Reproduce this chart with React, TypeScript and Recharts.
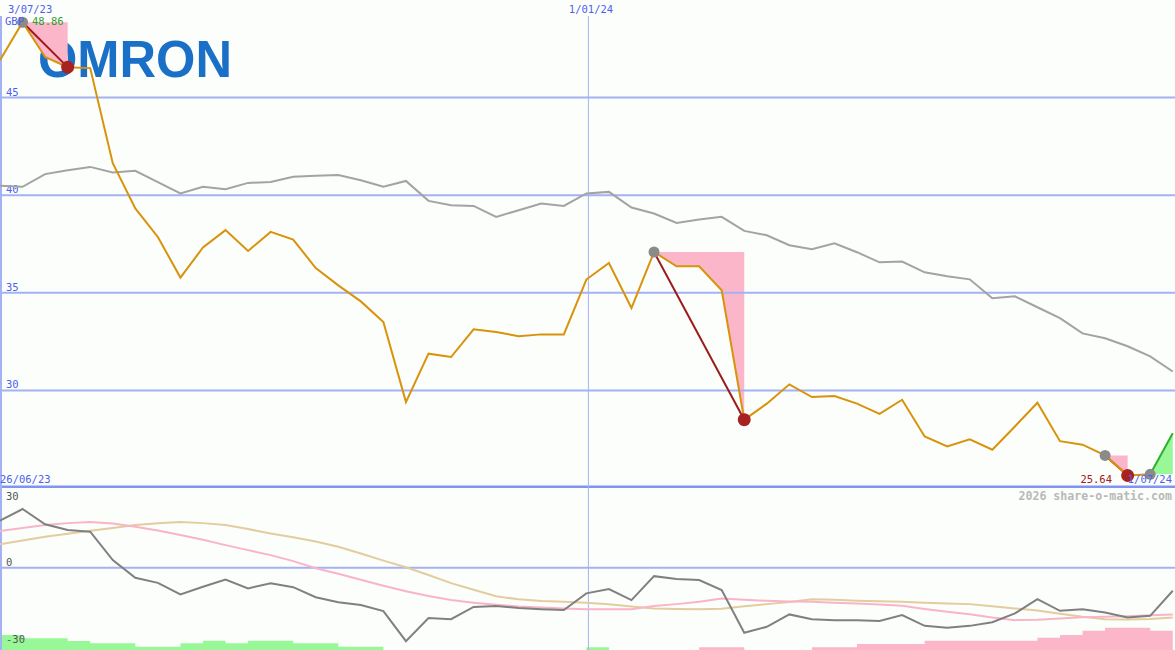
import React from 'react';
import { ComposedChart, Line, Area, XAxis, YAxis, ReferenceLine } from 'recharts';

// weekly closes in GBP, index 0 = end of June 2023
const closes = [
  46.92, 48.86, 47.08, 46.56, 46.51, 41.64, 39.32, 37.86, 35.78, 37.32,
  38.21, 37.14, 38.12, 37.73, 36.27, 35.38, 34.56, 33.5, 29.4, 31.88,
  31.71, 33.13, 32.99, 32.78, 32.87, 32.87, 35.68, 36.53, 34.22, 37.09,
  36.36, 36.36, 35.13, 28.5, 29.32, 30.31, 29.66, 29.71, 29.32, 28.8,
  29.52, 27.64, 27.13, 27.49, 26.96, 28.15, 29.37, 27.4, 27.22, 26.67,
  25.64, 25.7, 27.8,
];

// slow moving average (grey line, top panel)
const trend = [
  40.48, 40.43, 41.08, 41.28, 41.45, 41.16, 41.25, 40.67, 40.09, 40.43,
  40.31, 40.63, 40.68, 40.94, 41.0, 41.03, 40.77, 40.43, 40.73, 39.71,
  39.49, 39.45, 38.89, 39.23, 39.57, 39.45, 40.09, 40.17, 39.37, 39.06,
  38.58, 38.75, 38.89, 38.17, 37.95, 37.44, 37.23, 37.54, 37.08, 36.56,
  36.6, 36.05, 35.85, 35.69, 34.72, 34.82, 34.26, 33.7, 32.92, 32.67,
  32.26, 31.74, 30.97,
];

// lower panel: oscillator and its two signal lines
const osc = [
  19.7, 24.6, 18.2, 15.8, 15.1, 3.2, -4.2, -6.3, -11.1, -7.9,
  -4.9, -8.6, -6.5, -8.1, -12.3, -14.4, -15.6, -18.1, -30.7, -21.0,
  -21.5, -16.4, -16.0, -16.8, -17.3, -17.7, -10.7, -8.9, -13.5, -3.5,
  -4.7, -5.1, -9.3, -27.2, -24.7, -19.5, -21.5, -21.9, -21.9, -22.3,
  -19.8, -24.3, -25.1, -24.3, -22.8, -19.1, -13.1, -18.0, -17.3, -18.7,
  -20.8, -20.1, -9.6,
];
const oscPink = [
  15.4, 16.7, 17.9, 18.7, 19.2, 18.5, 17.2, 15.6, 13.7, 11.7,
  9.5, 7.4, 5.3, 2.8, -0.2, -2.5, -5.0, -7.5, -9.8, -11.8,
  -13.5, -14.6, -15.5, -16.2, -16.6, -17.0, -17.3, -17.3, -17.3, -16.0,
  -15.2, -14.2, -12.8, -13.4, -13.8, -14.1, -14.2, -14.6, -14.9, -15.4,
  -15.9, -17.2, -18.4, -19.4, -20.8, -21.9, -21.7, -21.2, -20.7, -20.5,
  -20.3, -19.9, -19.5,
];
const oscTan = [
  9.8, 11.4, 13.0, 14.3, 15.5, 16.7, 17.9, 18.6, 19.2, 18.7,
  17.9, 16.2, 14.4, 12.8, 11.0, 8.8, 6.0, 3.0, 0.2, -3.0,
  -6.4, -9.2, -11.9, -13.2, -13.9, -14.2, -14.6, -15.3, -16.2, -17.0,
  -17.2, -17.3, -17.1, -16.1, -15.2, -14.3, -13.2, -13.4, -13.8, -14.0,
  -14.2, -14.6, -14.9, -15.2, -16.1, -17.0, -17.9, -19.2, -20.5, -21.5,
  -21.6, -21.4, -20.8,
];
// histogram strip at the bottom (+ green, - pink)
const hist = [
  6.3, 4.9, 4.9, 3.8, 2.8, 2.8, 1.4, 1.4, 2.8, 3.9,
  2.8, 3.9, 3.9, 2.8, 2.8, 1.4, 1.4, 0, 0, 0,
  0, 0, 0, 0, 0, 0, 1.1, 0, 0, 0,
  0, -1.1, -1.1, 0, 0, 0, -1.1, -1.1, -2.5, -2.5,
  -2.5, -3.9, -3.9, -3.9, -3.9, -3.9, -5.1, -6.3, -8.1, -9.3,
  -9.3, -8.1, -8.1,
];

const peaks = [1, 29, 49, 51];
const troughs = [3, 33, 50];
const drops = [[1, 3], [29, 33], [49, 50]];
const rise = [51, 52];
const priceTicks = [45, 40, 35, 30];
const newYear = 26.09; // 1/01/24

const MONO = "'DejaVu Sans Mono', monospace";
const BLUE = '#4f5ff0';
const GRID = '#a4b2f4';

const rows = closes.map((c, i) => {
  const row: any = {
    i,
    close: i <= rise[0] ? c : null,
    trend: trend[i],
    riseLine: i >= rise[0] ? c : null,
    riseFill: i >= rise[0] ? [closes[rise[0]], c] : null,
    peak: peaks.includes(i) ? c : null,
    trough: troughs.includes(i) ? c : null,
    dropFill: null,
  };
  drops.forEach(([a, b], k) => {
    row[`drop${k}`] = i === a || i === b ? c : null;
    if (i >= a && i <= b) row.dropFill = [c, closes[a]];
  });
  return row;
});

const lowerRows = osc.map((v, i) => ({
  i,
  osc: v,
  pink: oscPink[i],
  tan: oscTan[i],
  up: hist[i] > 0 ? hist[i] : i > 0 && hist[i - 1] > 0 ? hist[i - 1] : null,
  down: hist[i] < 0 ? -hist[i] : i > 0 && hist[i - 1] < 0 ? -hist[i - 1] : null,
}));

const sideLabel = (text: string, color: string, dy: number) => (props: any) => (
  <text x={props.viewBox.x + 6} y={props.viewBox.y + dy} fill={color} fontSize={10.5} fontFamily={MONO}>
    {text}
  </text>
);

const noAnim = { isAnimationActive: false, dot: false, activeDot: false } as const;

export default function App() {
  return (
    <div style={{ position: 'absolute', left: 0, top: 0, width: 1175, height: 650, background: '#fbfefb', overflow: 'hidden' }}>
      {/* logo sits under the price lines */}
      <svg width={1175} height={100} style={{ position: 'absolute', left: 0, top: 0 }}>
        <text x={38} y={77} fontSize={52} fontWeight="bold" fontFamily="'Liberation Sans', Arial, sans-serif"
          fill="#1a6fc6" textLength={194} lengthAdjust="spacingAndGlyphs">OMRON</text>
      </svg>

      <div style={{ position: 'absolute', left: 0, top: 0 }}>
        <ComposedChart width={1175} height={488} data={rows} margin={{ top: 0, right: 0, bottom: 0, left: 0 }}>
          <XAxis dataKey="i" type="number" domain={[0, 52.1]} allowDataOverflow hide />
          <YAxis type="number" domain={[25, 50]} allowDataOverflow hide />
          {priceTicks.map(t => (
            <ReferenceLine key={t} y={t} stroke={GRID} strokeWidth={2} label={sideLabel(String(t), BLUE, -2)} />
          ))}
          <ReferenceLine y={25.05} stroke="#8294f2" strokeWidth={3} />
          <ReferenceLine segment={[{ x: 0, y: 49.18 }, { x: 0, y: 25 }]} stroke={GRID} strokeWidth={4} />
          <ReferenceLine segment={[{ x: newYear, y: 49.18 }, { x: newYear, y: 25 }]} stroke={GRID} strokeWidth={1} />

          <Line dataKey="trend" stroke="#a3a3a3" strokeWidth={2} {...noAnim} />
          <Area dataKey="dropFill" fill="#fbb6c9" fillOpacity={1} stroke="none" isAnimationActive={false} />
          <Area dataKey="riseFill" fill="#98f898" fillOpacity={1} stroke="none" isAnimationActive={false} />
          <Line dataKey="peak" stroke="none" isAnimationActive={false} activeDot={false}
            dot={{ r: 5.5, fill: '#8a8a8a', stroke: 'none' }} />
          <Line dataKey="trough" stroke="none" isAnimationActive={false} activeDot={false}
            dot={{ r: 6.5, fill: '#a82222', stroke: 'none' }} />
          {drops.map((_, k) => (
            <Line key={k} dataKey={`drop${k}`} stroke="#9c1a1a" strokeWidth={2} connectNulls {...noAnim} />
          ))}
          <Line dataKey="close" stroke="#d8930b" strokeWidth={2} {...noAnim} />
          <Line dataKey="riseLine" stroke="#2fae2f" strokeWidth={2} {...noAnim} />
        </ComposedChart>
      </div>

      <div style={{ position: 'absolute', left: 0, top: 488 }}>
        <ComposedChart width={1175} height={162} data={lowerRows} margin={{ top: 0, right: 0, bottom: 0, left: 0 }}>
          <XAxis dataKey="i" type="number" domain={[0, 52.1]} allowDataOverflow hide />
          <YAxis yAxisId="o" type="number" domain={[-34.4, 33.4]} allowDataOverflow hide />
          <YAxis yAxisId="h" type="number" domain={[0, 67.8]} allowDataOverflow hide />
          <Area yAxisId="h" dataKey="up" type="stepAfter" fill="#98f898" fillOpacity={1} stroke="none" isAnimationActive={false} />
          <Area yAxisId="h" dataKey="down" type="stepAfter" fill="#fbb6c9" fillOpacity={1} stroke="none" isAnimationActive={false} />
          <ReferenceLine yAxisId="o" y={0} stroke={GRID} strokeWidth={2} label={sideLabel('0', '#555', -2)} />
          <ReferenceLine yAxisId="o" y={30} stroke="none" label={sideLabel('30', '#555', 3.5)} />
          <ReferenceLine yAxisId="o" y={-30} stroke="none" label={sideLabel('-30', '#555', 3.5)} />
          <ReferenceLine yAxisId="o" segment={[{ x: 0, y: 33.4 }, { x: 0, y: -34.4 }]} stroke={GRID} strokeWidth={4} />
          <ReferenceLine yAxisId="o" segment={[{ x: newYear, y: 33.4 }, { x: newYear, y: -34.4 }]} stroke={GRID} strokeWidth={1} />
          <Line yAxisId="o" dataKey="tan" stroke="#e3cc9e" strokeWidth={2} {...noAnim} />
          <Line yAxisId="o" dataKey="pink" stroke="#f9b4c9" strokeWidth={2} {...noAnim} />
          <Line yAxisId="o" dataKey="osc" stroke="#808080" strokeWidth={2} {...noAnim} />
        </ComposedChart>
      </div>

      <svg width={1175} height={650} style={{ position: 'absolute', left: 0, top: 0, pointerEvents: 'none' }}
        fontFamily={MONO} fontSize={10.5}>
        <text x={8} y={13} fill={BLUE}>3/07/23</text>
        <text x={5} y={25} fill={BLUE}>GBP</text>
        <text x={32} y={25} fill="#2e9e2e">48.86</text>
        <text x={591} y={13} fill={BLUE} textAnchor="middle">1/01/24</text>
        <text x={0} y={483} fill={BLUE}>26/06/23</text>
        <text x={1172} y={483} fill={BLUE} textAnchor="end">1/07/24</text>
        <text x={1112} y={483} fill="#a02020" textAnchor="end">25.64</text>
        <text x={1172} y={500} fill="#b9b9b9" textAnchor="end" fontWeight="bold" fontSize={11.6}>2026 share-o-matic.com</text>
      </svg>
    </div>
  );
}
